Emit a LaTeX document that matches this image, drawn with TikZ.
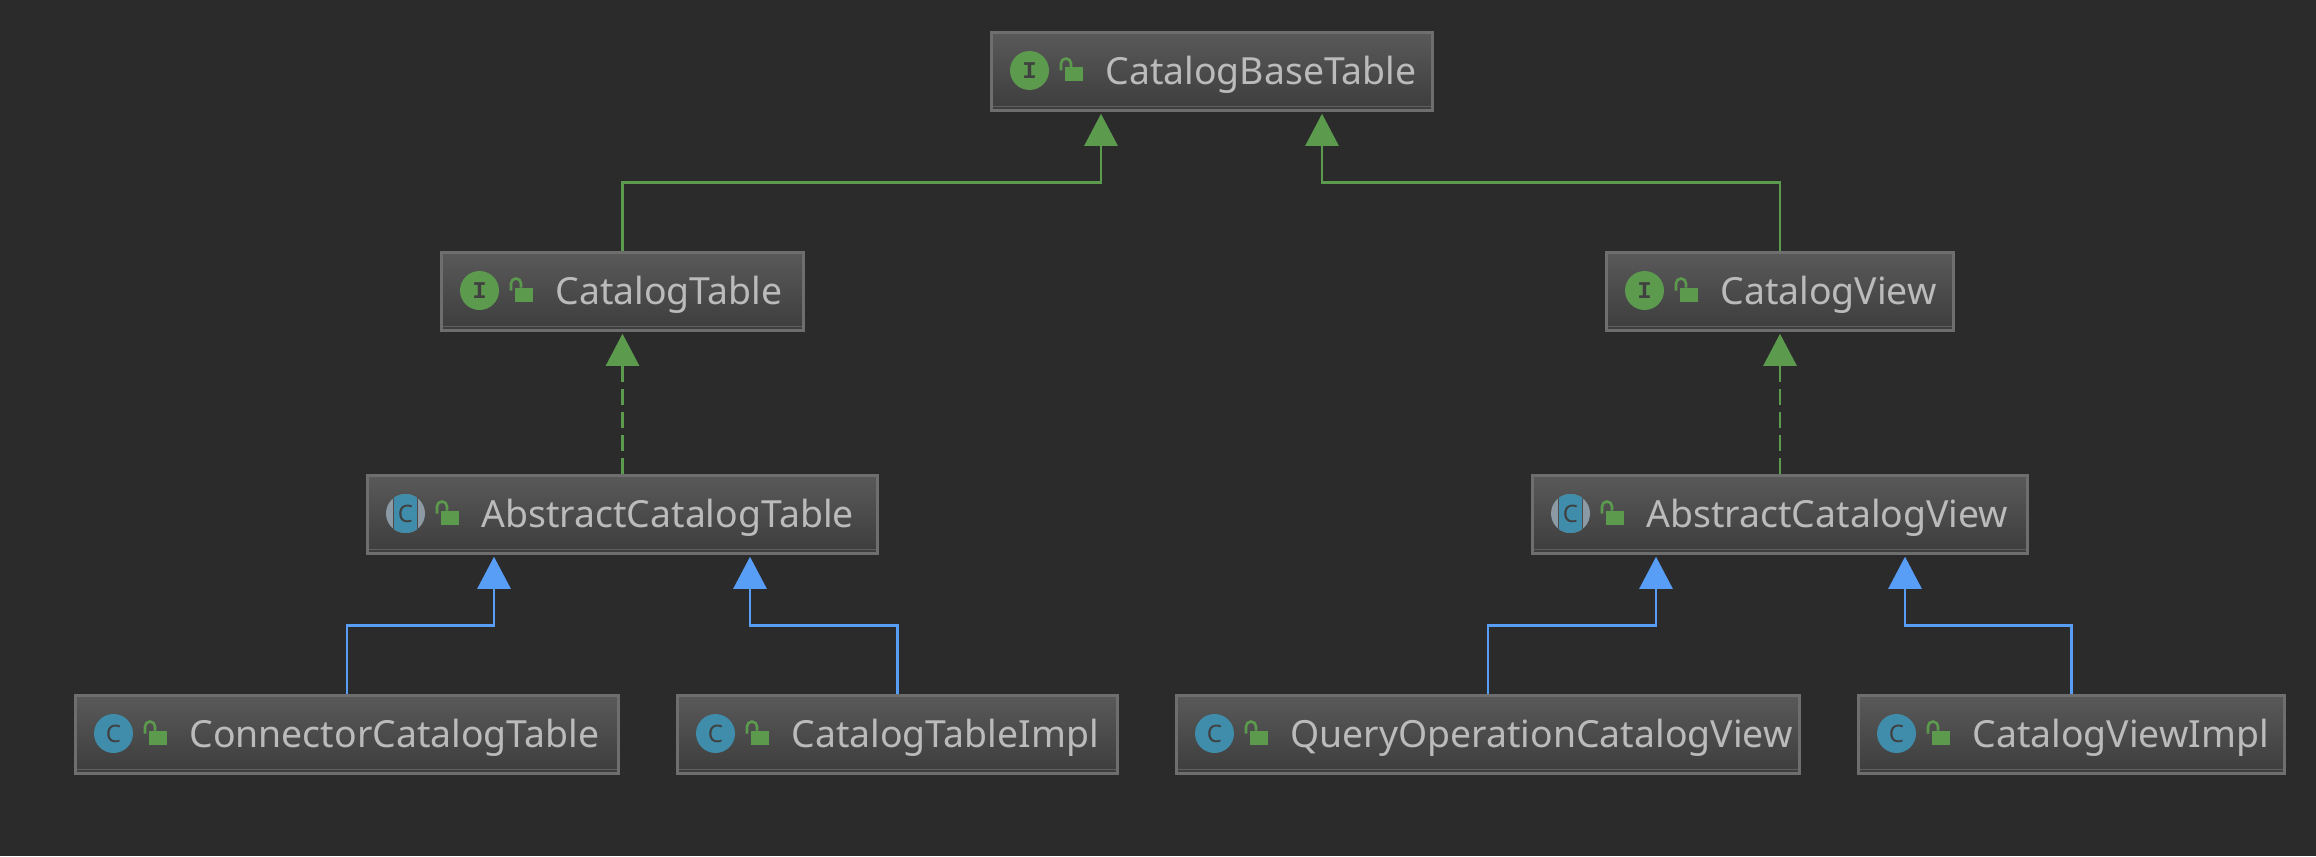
\documentclass[tikz,border=0pt]{standalone}
\usepackage{fontspec}
\setmainfont{Noto Sans}
\newfontfamily\iconMono{Liberation Mono}
\usetikzlibrary{arrows.meta,calc,positioning}
\definecolor{canvasBg}{HTML}{2B2B2B}
\definecolor{boxEdge}{HTML}{6E6E6E}
\definecolor{boxTop}{HTML}{595959}
\definecolor{boxBottom}{HTML}{3D3D3D}
\definecolor{nameGray}{HTML}{BBBBBB}
\definecolor{ifaceGreen}{HTML}{5C9A4E}
\definecolor{classTeal}{HTML}{3F8CAB}
\definecolor{abstractGray}{HTML}{8C9AA6}
\definecolor{extendBlue}{HTML}{589DF6}
\tikzset{
  umlBox/.style={draw=boxEdge,line width=1.5pt,top color=boxTop,bottom color=boxBottom,inner sep=0pt},
  nameText/.style={anchor=west,inner sep=0pt,text=nameGray,font=\fontsize{18.7}{20}\selectfont},
  iconBall/.style={circle,minimum size=19.5pt,inner sep=0pt,text=black!75},
  greenEdge/.style={draw=ifaceGreen,line width=1.3pt,-{Triangle[length=16pt,width=16.5pt,fill=ifaceGreen]}},
  blueEdge/.style={draw=extendBlue,line width=1.3pt,-{Triangle[length=16pt,width=16.5pt,fill=extendBlue]}},
  implEdge/.style={greenEdge,dash pattern=on 8pt off 3.5pt}
}
\begin{document}
\begin{tikzpicture}[x=0.5pt,y=-0.5pt]
  \useasboundingbox[fill=canvasBg] (0,0) rectangle (2316,856);

  % draw the boxes with their icon, lock and name
  \foreach \id/\xl/\xr/\yt/\kind/\name in {
    catBase/991/1433/31/0/CatalogBaseTable,
    catTable/441/804/251/0/CatalogTable,
    catView/1606/1954/251/0/CatalogView,
    absTable/367/878/474/2/AbstractCatalogTable,
    absView/1532/2028/474/2/AbstractCatalogView,
    connTable/75/619/694/1/ConnectorCatalogTable,
    tableImpl/677/1118/694/1/CatalogTableImpl,
    queryView/1176/1800/694/1/QueryOperationCatalogView,
    viewImpl/1858/2285/694/1/CatalogViewImpl}
  {
    \pgfmathsetmacro\cx{(\xl+\xr)/2}
    \pgfmathsetmacro\cy{\yt+40.5}
    \pgfmathsetmacro\bw{(\xr-\xl-1.5)/2}
    \node[umlBox,minimum width=\bw pt,minimum height=38.75pt] (\id) at (\cx,\cy) {};
    \draw[boxEdge!70!boxBottom,line width=.6pt] ($(\id.south west)+(3,-5)$) -- ($(\id.south east)+(-3,-5)$);

    % the icon
    \pgfmathsetmacro\ix{\xl+38.5}
    \ifnum\kind=0
      \node[iconBall,fill=ifaceGreen,font=\iconMono\bfseries\fontsize{12}{12}\selectfont] (\id Icon) at (\ix,\cy-1) {I};
    \else
      \ifnum\kind=1
        \node[iconBall,fill=classTeal,font=\fontsize{12}{12}\selectfont] (\id Icon) at (\ix,\cy-1) {C};
      \else
        \fill[abstractGray] (\ix,\cy-1) circle [radius=19.5];
        \begin{scope}
          \clip (\ix,\cy-1) circle [radius=19.5];
          \fill[classTeal] (\ix-12,\cy-22) rectangle (\ix+12,\cy+20);
          \draw[black!70,line width=.6pt] (\ix-12,\cy-22) -- (\ix-12,\cy+20) (\ix+12,\cy-22) -- (\ix+12,\cy+20);
        \end{scope}
        \node[inner sep=0pt,text=black!75,font=\fontsize{12}{12}\selectfont] (\id Icon) at (\ix,\cy-1) {C};
      \fi
    \fi

    % the open lock
    \fill[ifaceGreen] (\xl+74,\cy-4) rectangle (\xl+92,\cy+10);
    \draw[ifaceGreen,line width=1.3pt] (\xl+70,\cy-1) -- (\xl+70,\cy-8) arc [start angle=180,end angle=360,radius=5] -- (\xl+80,\cy-4);

    \node[nameText] (\id Name) at (\xl+114,\cy+3) {\name};
  }

  % draw the elbow connectors
  \foreach \fromBox/\toBox/\off/\kind in {
    catTable/catBase/-111/greenEdge,
    catView/catBase/110/greenEdge,
    connTable/absTable/-128.5/blueEdge,
    tableImpl/absTable/127.5/blueEdge,
    queryView/absView/-124/blueEdge,
    viewImpl/absView/125/blueEdge}
  {
    \coordinate (\fromBox In) at ($(\toBox.south)+(\off,2)$);
    \draw[\kind] (\fromBox.north) |- ($(\fromBox In)+(0,69)$) -- (\fromBox In);
  }

  % draw the dashed connectors
  \foreach \fromBox/\toBox in {absTable/catTable,absView/catView}
  {
    \coordinate (\fromBox In) at ($(\toBox.south)+(0,2)$);
    \draw[implEdge] (\fromBox.north) -- (\fromBox In);
  }
\end{tikzpicture}
\end{document}
